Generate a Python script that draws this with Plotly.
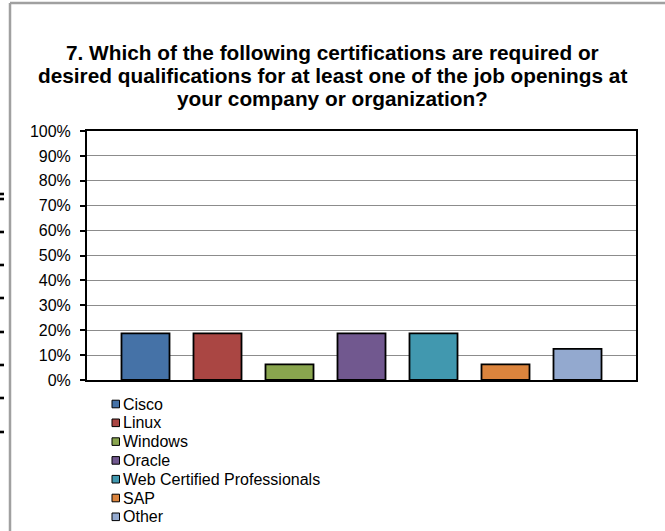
import plotly.graph_objects as go

# ---- data ----
title_lines = [
    "7. Which of the following certifications are required or",
    "desired qualifications for at least one of the job openings at",
    "your company or organization?",
]
categories = ["Cisco", "Linux", "Windows", "Oracle",
              "Web Certified Professionals", "SAP", "Other"]
values = [18.75, 18.75, 6.25, 18.75, 18.75, 6.25, 12.5]
colors = ["#4572A7", "#AA4643", "#89A54E", "#71588F",
          "#4198AF", "#DB843D", "#93A9CF"]
y_ticks = [0, 10, 20, 30, 40, 50, 60, 70, 80, 90, 100]
y_tick_labels = [f"{v}%" for v in y_ticks]

# ---- layout geometry (pixels) ----
W, H = 665, 531
L, R, T, B = 87, 636, 131, 380
FONT = "Liberation Sans, Arial, sans-serif"


def px_x(px):
    return (px - L) / (R - L)


def px_y(py):
    return (B - py) / (B - T)


fig = go.Figure()
for name, val, col in zip(categories, values, colors):
    fig.add_trace(go.Bar(
        x=[name], y=[val], name=name, width=0.667,
        marker=dict(color=col, line=dict(color="black", width=1.8)),
        showlegend=False, hoverinfo="skip",
    ))

annotations = []
title_y = [52, 76, 99]
for line, ty in zip(title_lines, title_y):
    annotations.append(dict(
        text=f"<b>{line}</b>", xref="paper", yref="paper",
        x=px_x(332), y=px_y(ty), xanchor="center", yanchor="middle",
        showarrow=False, font=dict(family=FONT, size=20.8, color="black"),
    ))

shapes = []
# custom legend
leg_top = 404
leg_step = 18.8
for i, (name, col) in enumerate(zip(categories, colors)):
    cy = leg_top + i * leg_step
    shapes.append(dict(
        type="rect", xref="paper", yref="paper",
        x0=px_x(112), x1=px_x(119.5), y0=px_y(cy - 3.8), y1=px_y(cy + 3.8),
        fillcolor=col, line=dict(color="black", width=1),
    ))
    annotations.append(dict(
        text=name, xref="paper", yref="paper",
        x=px_x(121), y=px_y(cy), xanchor="left", yanchor="middle",
        showarrow=False, font=dict(family=FONT, size=16, color="black"),
    ))

# outer chart frame
shapes.append(dict(type="line", xref="paper", yref="paper",
                   x0=px_x(10), x1=px_x(670), y0=px_y(3), y1=px_y(3),
                   line=dict(color="#a0a0a0", width=2.5)))
shapes.append(dict(type="line", xref="paper", yref="paper",
                   x0=px_x(10), x1=px_x(10), y0=px_y(3), y1=px_y(540),
                   line=dict(color="#a0a0a0", width=2.5)))
# small dashes on the far left edge
for dy in [194, 199, 232, 265, 298, 332, 365, 398, 432]:
    shapes.append(dict(type="rect", xref="paper", yref="paper",
                       x0=px_x(-2), x1=px_x(4), y0=px_y(dy - 1.3), y1=px_y(dy + 1.3),
                       fillcolor="black", line=dict(width=0)))

fig.update_layout(
    width=W, height=H, autosize=False,
    margin=dict(l=L, r=W - R, t=T, b=H - B, pad=0),
    paper_bgcolor="white", plot_bgcolor="white",
    barmode="overlay",
    font=dict(family=FONT, color="black"),
    annotations=annotations, shapes=shapes,
    xaxis=dict(
        type="category", categoryorder="array", categoryarray=categories,
        range=[-0.8125, 6.8125], showticklabels=False, ticks="",
        showgrid=False, zeroline=False,
        showline=True, mirror=True, linecolor="black", linewidth=2,
    ),
    yaxis=dict(
        range=[0, 100], tickvals=y_ticks, ticktext=y_tick_labels,
        showgrid=True, gridcolor="#8c8c8c", gridwidth=1.3, zeroline=False,
        ticks="outside", ticklen=5, tickcolor="black", tickwidth=1.5,
        ticklabelstandoff=6,
        tickfont=dict(family=FONT, size=16, color="black"),
        showline=True, mirror=True, linecolor="black", linewidth=2,
    ),
)

fig.write_html(
    "out.html",
    config={"displayModeBar": False},
    post_script="document.body.style.margin='0';document.body.style.overflow='hidden';",
)
